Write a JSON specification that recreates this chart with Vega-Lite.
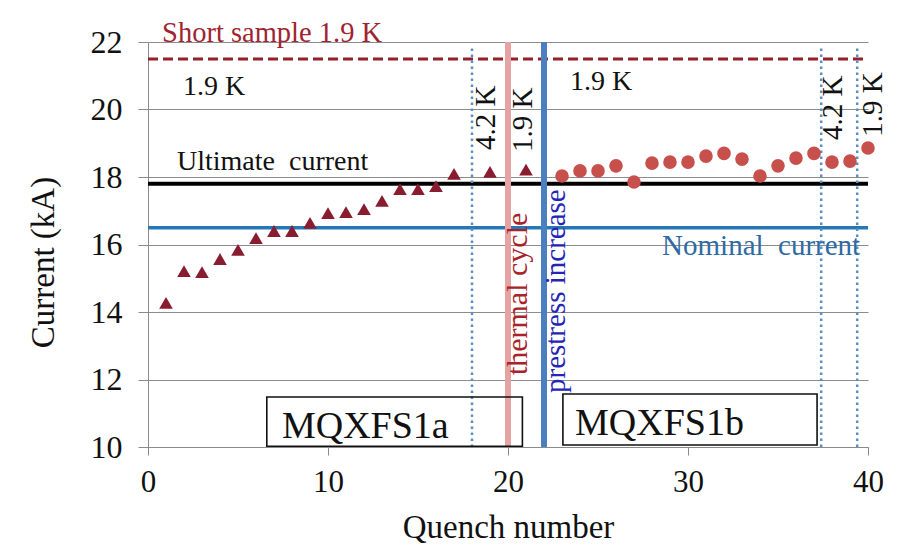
{
  "$schema": "https://vega.github.io/schema/vega-lite/v6.json",
  "width": 720,
  "height": 405,
  "autosize": {"type": "none"},
  "padding": {"left": 148, "top": 42, "right": 48, "bottom": 106},
  "background": "white",
  "config": {
    "view": {"stroke": null},
    "font": "Liberation Serif",
    "text": {"font": "Liberation Serif"}
  },
  "datasets": {
    "quench": [
      {"q": 1, "kA": 14.27, "magnet": "MQXFS1a"},
      {"q": 2, "kA": 15.21, "magnet": "MQXFS1a"},
      {"q": 3, "kA": 15.18, "magnet": "MQXFS1a"},
      {"q": 4, "kA": 15.57, "magnet": "MQXFS1a"},
      {"q": 5, "kA": 15.84, "magnet": "MQXFS1a"},
      {"q": 6, "kA": 16.19, "magnet": "MQXFS1a"},
      {"q": 7, "kA": 16.4, "magnet": "MQXFS1a"},
      {"q": 8, "kA": 16.4, "magnet": "MQXFS1a"},
      {"q": 9, "kA": 16.64, "magnet": "MQXFS1a"},
      {"q": 10, "kA": 16.93, "magnet": "MQXFS1a"},
      {"q": 11, "kA": 16.96, "magnet": "MQXFS1a"},
      {"q": 12, "kA": 17.05, "magnet": "MQXFS1a"},
      {"q": 13, "kA": 17.29, "magnet": "MQXFS1a"},
      {"q": 14, "kA": 17.64, "magnet": "MQXFS1a"},
      {"q": 15, "kA": 17.64, "magnet": "MQXFS1a"},
      {"q": 16, "kA": 17.73, "magnet": "MQXFS1a"},
      {"q": 17, "kA": 18.09, "magnet": "MQXFS1a"},
      {"q": 19, "kA": 18.15, "magnet": "MQXFS1a"},
      {"q": 21, "kA": 18.22, "magnet": "MQXFS1a"},
      {"q": 23, "kA": 18.03, "magnet": "MQXFS1b"},
      {"q": 24, "kA": 18.18, "magnet": "MQXFS1b"},
      {"q": 25, "kA": 18.18, "magnet": "MQXFS1b"},
      {"q": 26, "kA": 18.33, "magnet": "MQXFS1b"},
      {"q": 27, "kA": 17.85, "magnet": "MQXFS1b"},
      {"q": 28, "kA": 18.41, "magnet": "MQXFS1b"},
      {"q": 29, "kA": 18.44, "magnet": "MQXFS1b"},
      {"q": 30, "kA": 18.44, "magnet": "MQXFS1b"},
      {"q": 31, "kA": 18.62, "magnet": "MQXFS1b"},
      {"q": 32, "kA": 18.7, "magnet": "MQXFS1b"},
      {"q": 33, "kA": 18.53, "magnet": "MQXFS1b"},
      {"q": 34, "kA": 18.03, "magnet": "MQXFS1b"},
      {"q": 35, "kA": 18.33, "magnet": "MQXFS1b"},
      {"q": 36, "kA": 18.56, "magnet": "MQXFS1b"},
      {"q": 37, "kA": 18.7, "magnet": "MQXFS1b"},
      {"q": 38, "kA": 18.44, "magnet": "MQXFS1b"},
      {"q": 39, "kA": 18.47, "magnet": "MQXFS1b"},
      {"q": 40, "kA": 18.86, "magnet": "MQXFS1b"}
    ],
    "magnets": [
      {"magnet": "MQXFS1a", "q": 6.6, "q2": 20.8, "kA": 10.02, "kA2": 11.48, "lq": 7.44, "lkA": 10.27},
      {"magnet": "MQXFS1b", "q": 23.05, "q2": 37.17, "kA": 10.06, "kA2": 11.57, "lq": 23.72, "lkA": 10.36}
    ]
  },
  "encoding": {
    "x": {
      "field": "q",
      "type": "quantitative",
      "scale": {"domain": [0, 40], "nice": false, "zero": false},
      "axis": {
        "title": "Quench number",
        "values": [0, 10, 20, 30, 40],
        "grid": false,
        "domainColor": "#8a8a8a",
        "tickColor": "#8a8a8a",
        "tickSize": 8,
        "labelFont": "Liberation Serif",
        "labelFontSize": 31,
        "labelColor": "#111111",
        "labelPadding": 12,
        "labelFlush": false,
        "titleFont": "Liberation Serif",
        "titleFontSize": 33,
        "titleFontWeight": "normal",
        "titleColor": "#111111",
        "titlePadding": 14
      }
    },
    "y": {
      "field": "kA",
      "type": "quantitative",
      "scale": {"domain": [10, 22], "nice": false, "zero": false},
      "axis": {
        "title": "Current (kA)",
        "values": [10, 12, 14, 16, 18, 20, 22],
        "grid": true,
        "gridColor": "#8c8c8c",
        "gridWidth": 1,
        "domainColor": "#8a8a8a",
        "tickColor": "#8a8a8a",
        "tickSize": 10,
        "labelFont": "Liberation Serif",
        "labelFontSize": 32,
        "labelColor": "#111111",
        "labelPadding": 16,
        "titleFont": "Liberation Serif",
        "titleFontSize": 33,
        "titleFontWeight": "normal",
        "titleColor": "#111111",
        "titlePadding": 30,
        "titleY": 220
      }
    }
  },
  "layer": [
    {
      "data": {"values": [{"q": 0, "q2": 40, "kA": 21.5}]},
      "mark": {"type": "rule", "color": "#96202a", "strokeWidth": 3, "strokeDash": [10, 5]},
      "encoding": {"x2": {"field": "q2"}}
    },
    {
      "data": {"values": [{"q": 0, "q2": 40, "kA": 17.8}]},
      "mark": {"type": "rule", "color": "#000000", "strokeWidth": 4},
      "encoding": {"x2": {"field": "q2"}}
    },
    {
      "data": {"values": [{"q": 0, "q2": 40, "kA": 16.5}]},
      "mark": {"type": "rule", "color": "#2677b8", "strokeWidth": 3.5},
      "encoding": {"x2": {"field": "q2"}}
    },
    {
      "data": {"values": [
        {"q": 18, "kA": 10, "kA2": 21.85},
        {"q": 37.4, "kA": 10, "kA2": 21.85},
        {"q": 39.4, "kA": 10, "kA2": 21.85}
      ]},
      "mark": {"type": "rule", "color": "#5b8ec4", "strokeWidth": 2.5, "strokeDash": [2.5, 3.5]},
      "encoding": {"y2": {"field": "kA2"}}
    },
    {
      "data": {"values": [{"q": 20, "kA": 10, "kA2": 22}]},
      "mark": {"type": "rule", "color": "#e6a3a3", "strokeWidth": 6},
      "encoding": {"y2": {"field": "kA2"}}
    },
    {
      "data": {"values": [{"q": 22, "kA": 10, "kA2": 22}]},
      "mark": {"type": "rule", "color": "#4a7fc0", "strokeWidth": 6},
      "encoding": {"y2": {"field": "kA2"}}
    },
    {
      "data": {"name": "magnets"},
      "mark": {"type": "rect", "fill": null, "fillOpacity": 0, "stroke": "#111111", "strokeWidth": 1.6},
      "encoding": {"x2": {"field": "q2"}, "y2": {"field": "kA2"}}
    },
    {
      "data": {"name": "magnets"},
      "mark": {"type": "text", "align": "left", "baseline": "alphabetic", "fontSize": 38, "color": "#111111"},
      "encoding": {"x": {"field": "lq", "type": "quantitative"}, "y": {"field": "lkA", "type": "quantitative"}, "text": {"field": "magnet"}}
    },
    {
      "data": {"name": "quench"},
      "mark": {"type": "point", "filled": true, "opacity": 1, "size": 185},
      "encoding": {
        "shape": {"field": "magnet", "type": "nominal", "scale": {"domain": ["MQXFS1a", "MQXFS1b"], "range": ["triangle-up", "circle"]}, "legend": null},
        "color": {"field": "magnet", "type": "nominal", "scale": {"domain": ["MQXFS1a", "MQXFS1b"], "range": ["#8a1c30", "#c8504c"]}, "legend": null}
      }
    },
    {
      "data": {"values": [{"q": 0.78, "kA": 22.0, "note": "Short sample 1.9 K"}]},
      "mark": {"type": "text", "align": "left", "baseline": "alphabetic", "fontSize": 28.5, "color": "#9e2530"},
      "encoding": {"text": {"field": "note"}}
    },
    {
      "data": {"values": [
        {"q": 1.94, "kA": 20.43, "note": "1.9 K"},
        {"q": 1.61, "kA": 18.21, "note": "Ultimate\u00a0 current"},
        {"q": 23.44, "kA": 20.58, "note": "1.9 K"}
      ]},
      "mark": {"type": "text", "align": "left", "baseline": "alphabetic", "fontSize": 28, "color": "#111111"},
      "encoding": {"text": {"field": "note"}}
    },
    {
      "data": {"values": [{"q": 28.56, "kA": 15.69, "note": "Nominal\u00a0 current"}]},
      "mark": {"type": "text", "align": "left", "baseline": "alphabetic", "fontSize": 29, "color": "#2e6aa3"},
      "encoding": {"text": {"field": "note"}}
    },
    {
      "data": {"values": [
        {"q": 19.28, "kA": 18.8, "note": "4.2 K"},
        {"q": 21.33, "kA": 18.74, "note": "1.9 K"},
        {"q": 38.56, "kA": 19.1, "note": "4.2 K"},
        {"q": 40.78, "kA": 19.19, "note": "1.9 K"}
      ]},
      "mark": {"type": "text", "align": "left", "baseline": "alphabetic", "angle": 270, "fontSize": 29, "color": "#111111"},
      "encoding": {"text": {"field": "note"}}
    },
    {
      "data": {"values": [{"q": 21.06, "kA": 12.13, "note": "thermal cycle"}]},
      "mark": {"type": "text", "align": "left", "baseline": "alphabetic", "angle": 270, "fontSize": 30, "color": "#a82228"},
      "encoding": {"text": {"field": "note"}}
    },
    {
      "data": {"values": [{"q": 23.17, "kA": 11.6, "note": "prestress increase"}]},
      "mark": {"type": "text", "align": "left", "baseline": "alphabetic", "angle": 270, "fontSize": 29, "color": "#2525b5"},
      "encoding": {"text": {"field": "note"}}
    }
  ]
}
